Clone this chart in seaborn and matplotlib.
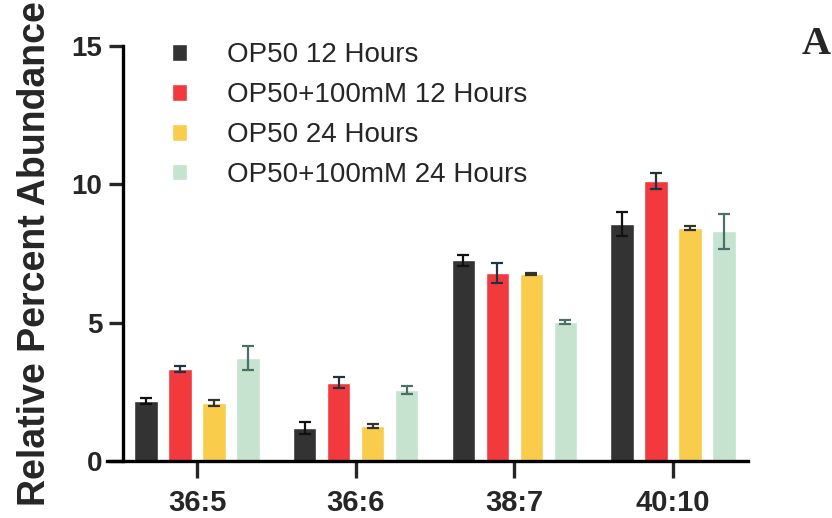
import matplotlib
matplotlib.use('Agg')
import matplotlib.pyplot as plt
import seaborn as sns
import pandas as pd

GROUPS = ['36:5', '36:6', '38:7', '40:10']
SERIES = ['OP50 12 Hours', 'OP50+100mM 12 Hours',
          'OP50 24 Hours', 'OP50+100mM 24 Hours']

# mean values per series (one entry per group)
OP50_12 = [2.17, 1.20, 7.25, 8.57]
OP50_100_12 = [3.32, 2.83, 6.80, 10.12]
OP50_24 = [2.10, 1.27, 6.76, 8.42]
OP50_100_24 = [3.72, 2.57, 5.03, 8.31]

# error bar half-lengths
ERR_OP50_12 = [0.10, 0.22, 0.20, 0.43]
ERR_OP50_100_12 = [0.11, 0.20, 0.36, 0.30]
ERR_OP50_24 = [0.10, 0.06, 0.02, 0.07]
ERR_OP50_100_24 = [0.43, 0.15, 0.07, 0.63]

COLORS = ['#333333', '#F2393D', '#F9CD4B', '#C6E3CF']
ERR_COLORS = ['#111111', '#1E3440', '#33332A', '#4A7068']


def build_frame():
    """Long-form table for seaborn"""
    rows = []
    for name, vals in zip(SERIES, [OP50_12, OP50_100_12, OP50_24, OP50_100_24]):
        for g, v in zip(GROUPS, vals):
            rows.append([g, name, v])
    return pd.DataFrame(columns=['Group', 'Series', 'Value'], data=rows)


def main():
    sns.set_style('ticks')
    plt.rcParams['font.family'] = ['Liberation Sans', 'DejaVu Sans']

    fig = plt.figure(figsize=(8.32, 5.18), dpi=100)
    ax = fig.add_axes([0.1286, 0.110, 0.770, 0.801])

    df = build_frame()
    sns.barplot(data=df, x='Group', y='Value', hue='Series', hue_order=SERIES,
                palette=COLORS, width=0.857, gap=0.32, errorbar=None,
                saturation=1, ax=ax, zorder=2)

    errs = [ERR_OP50_12, ERR_OP50_100_12, ERR_OP50_24, ERR_OP50_100_24]
    bar_conts = list(ax.containers)
    for i, cont in enumerate(bar_conts):
        for j, patch in enumerate(cont.patches):
            x = patch.get_x() + patch.get_width() / 2
            ax.errorbar(x, patch.get_height(), yerr=errs[i][j], fmt='none',
                        ecolor=ERR_COLORS[i], elinewidth=1.6, capsize=4.6,
                        capthick=1.6, zorder=3)

    ax.set_xlim(-0.567, 3.47)
    ax.set_ylim(0, 15)
    ax.set_yticks([0, 5, 10, 15])
    ax.spines['left'].set_position(('data', -0.466))
    ax.spines['right'].set_visible(False)
    ax.spines['top'].set_visible(False)
    for s in ['left', 'bottom']:
        ax.spines[s].set_linewidth(2.4)
        ax.spines[s].set_color('black')

    ax.tick_params(axis='y', length=10, width=2.4, pad=5, labelsize=20)
    ax.tick_params(axis='x', length=12, width=2.4, pad=8, labelsize=21)
    for lab in ax.get_xticklabels() + ax.get_yticklabels():
        lab.set_fontweight('bold')

    ax.set_xlabel('')
    ax.set_ylabel('Relative Percent Abundance', fontsize=27, fontweight='bold',
                  labelpad=13)

    handles, labels = ax.get_legend_handles_labels()
    ax.legend(handles, labels, loc='upper left', bbox_to_anchor=(0.1895, 0.945),
              bbox_transform=fig.transFigure, frameon=False, fontsize=20,
              handlelength=0.54, handleheight=0.54, handletextpad=1.44,
              labelspacing=0.5, borderpad=0)

    fig.text(0.963, 0.895, 'A', family='Liberation Serif', fontweight='bold',
             fontsize=29, ha='left', va='baseline')

    fig.savefig('out.png', dpi=100)


if __name__ == '__main__':
    main()
